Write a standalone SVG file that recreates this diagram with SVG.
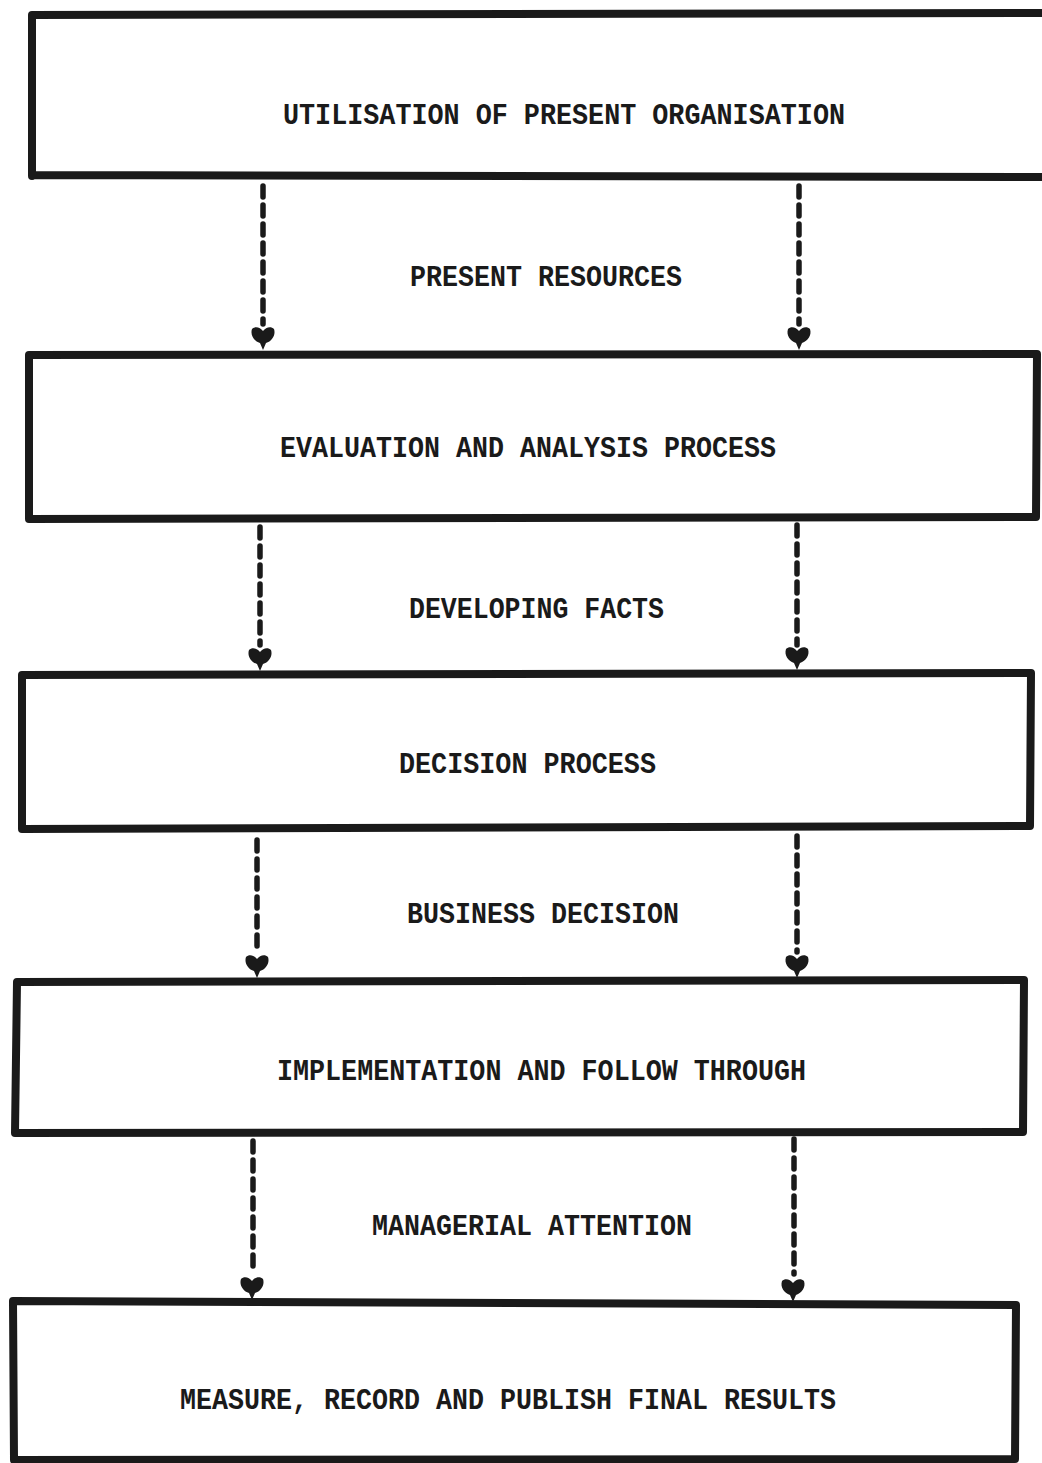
<svg xmlns="http://www.w3.org/2000/svg" width="1042" height="1463" viewBox="0 0 1042 1463">
  <style>
    .box { fill: none; stroke: #1a1a1a; stroke-linejoin: round; stroke-linecap: round; }
    .lbl { font-family: "Liberation Mono", "DejaVu Sans Mono", monospace; font-weight: bold; font-size: 29px; fill: #1a1a1a; }
    .flow { stroke: #1a1a1a; stroke-width: 5.5; stroke-dasharray: 11 8; stroke-linecap: round; fill: none; }
    .head { fill: #1a1a1a; }
  </style>
  <defs>
    <!-- heart-shaped arrowhead, tip at origin pointing down -->
    <path id="tip" class="head" d="M0,0 L-3,-7 C-9,-9 -13,-15 -11,-21 C-8,-24 -3,-23 0,-19 C3,-23 8,-24 11,-21 C13,-15 9,-9 3,-7 Z"/>
  </defs>
  <rect width="1042" height="1463" fill="#ffffff"/>

  <!-- stage boxes -->
  <g id="utilisation">
    <path class="box" stroke-width="8" d="M32,176 L32,15 L1050,13 M32,175 L1050,177"/>
    <text class="lbl" x="283" y="124" textLength="562" lengthAdjust="spacingAndGlyphs">UTILISATION OF PRESENT ORGANISATION</text>
  </g>
  <g id="evaluation">
    <path class="box" stroke-width="8" d="M29,355 L1037,354 L1036,517 L29,519 Z"/>
    <text class="lbl" x="280" y="457" textLength="496" lengthAdjust="spacingAndGlyphs">EVALUATION AND ANALYSIS PROCESS</text>
  </g>
  <g id="decision">
    <path class="box" stroke-width="8" d="M22,675 L1031,673 L1030,826 L22,829 Z"/>
    <text class="lbl" x="399" y="773" textLength="257" lengthAdjust="spacingAndGlyphs">DECISION PROCESS</text>
  </g>
  <g id="implementation">
    <path class="box" stroke-width="8" d="M17,982 L1024,980 L1023,1132 L15,1133 Z"/>
    <text class="lbl" x="277" y="1080" textLength="529" lengthAdjust="spacingAndGlyphs">IMPLEMENTATION AND FOLLOW THROUGH</text>
  </g>
  <g id="results">
    <path class="box" stroke-width="8" d="M13,1301 L1016,1305 L1015,1459 L14,1460 Z"/>
    <text class="lbl" x="180" y="1409" textLength="656" lengthAdjust="spacingAndGlyphs">MEASURE, RECORD AND PUBLISH FINAL RESULTS</text>
  </g>

  <!-- dashed flows between stages -->
  <g id="connectors">
    <line class="flow" x1="263" y1="186" x2="263" y2="324"/>
    <use href="#tip" x="263" y="350"/>
    <line class="flow" x1="799" y1="186" x2="799" y2="324"/>
    <use href="#tip" x="799" y="350"/>
    <text class="lbl" x="410" y="286" textLength="272" lengthAdjust="spacingAndGlyphs">PRESENT RESOURCES</text>

    <line class="flow" x1="260" y1="527" x2="260" y2="645"/>
    <use href="#tip" x="260" y="671"/>
    <line class="flow" x1="797" y1="525" x2="797" y2="645"/>
    <use href="#tip" x="797" y="670"/>
    <text class="lbl" x="409" y="618" textLength="255" lengthAdjust="spacingAndGlyphs">DEVELOPING FACTS</text>

    <line class="flow" x1="257" y1="840" x2="257" y2="952"/>
    <use href="#tip" x="257" y="978"/>
    <line class="flow" x1="797" y1="836" x2="797" y2="952"/>
    <use href="#tip" x="797" y="978"/>
    <text class="lbl" x="407" y="923" textLength="272" lengthAdjust="spacingAndGlyphs">BUSINESS DECISION</text>

    <line class="flow" x1="253" y1="1141" x2="253" y2="1274"/>
    <use href="#tip" x="252" y="1300"/>
    <line class="flow" x1="794" y1="1139" x2="794" y2="1274"/>
    <use href="#tip" x="793" y="1302"/>
    <text class="lbl" x="372" y="1235" textLength="320" lengthAdjust="spacingAndGlyphs">MANAGERIAL ATTENTION</text>
  </g>
</svg>
